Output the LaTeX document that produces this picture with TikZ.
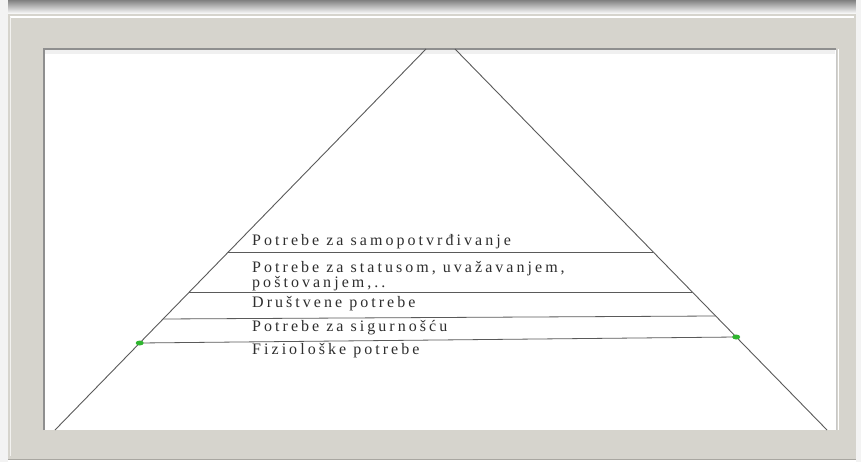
\documentclass[tikz,border=0pt]{standalone}
\usepackage{fontspec}
\setmainfont{Liberation Serif}
\usetikzlibrary{calc,shapes.geometric}
\definecolor{framec}{HTML}{D6D4CD}
\definecolor{framedark}{HTML}{A9A7A1}
\definecolor{innerbd}{HTML}{8F8F8F}
\definecolor{shade}{HTML}{EBEBEB}
\definecolor{linec}{HTML}{5A5A5A}
\definecolor{textc}{HTML}{2E2E2E}
\definecolor{dotc}{HTML}{2FB52F}
\tikzset{
  pyr/.style={draw=linec, line width=0.9pt},
  lvl/.style={draw=linec, line width=0.8pt},
  lbl/.style={anchor=west, inner sep=0pt, text=textc, align=left,
    font=\fontsize{16}{13}\selectfont\addfontfeature{LetterSpace=19}},
  gdot/.style={ellipse, fill=dotc, inner sep=0pt, minimum width=8pt, minimum height=5pt}
}
\begin{document}
\begin{tikzpicture}[x=1pt, y=-1pt]
\useasboundingbox (0,0) rectangle (861,462);
% page shadow
\fill[white] (0,0) rectangle (861,462);
\fill[shade] (0,0) rectangle (861,14);
\fill[shade!60] (0,0) rectangle (8,462);
\fill[shade!60] (856,0) rectangle (861,462);
% outer frame
\fill[framec] (8,14) rectangle (856,459);
\draw[white, line width=1.2pt] (10,17) -- (854,17);
\draw[white!70!framec, line width=1pt] (10,17) -- (10,456);
\draw[framedark, line width=1pt] (8,459) -- (856,459);
% inner white area
\fill[white] (44,49) rectangle (836,430);
\draw[innerbd, line width=1.6pt] (44,430) -- (44,49) -- (836,49);
\draw[innerbd!50, line width=1pt] (836,49) -- (836,430);
\draw[white, line width=1pt] (838,49) -- (838,430);
\fill[gray!12] (45,50) rectangle (835,54);
% pyramid sides
\coordinate (TL) at (426,49);
\coordinate (TR) at (455,49);
\coordinate (BL) at (55,430);
\coordinate (BR) at (827,430);
\draw[pyr] (TL) -- (BL);
\draw[pyr] (TR) -- (BR);
% level lines
\coordinate (a1) at ($(TL)!{(252-49)/381}!(BL)$);
\coordinate (a2) at ($(TR)!{(252-49)/381}!(BR)$);
\coordinate (b1) at ($(TL)!{(292-49)/381}!(BL)$);
\coordinate (b2) at ($(TR)!{(292-49)/381}!(BR)$);
\coordinate (c1) at ($(TL)!{(319-49)/381}!(BL)$);
\coordinate (c2) at ($(TR)!{(316-49)/381}!(BR)$);
\coordinate (d1) at ($(TL)!{(343-49)/381}!(BL)$);
\coordinate (d2) at ($(TR)!{(337-49)/381}!(BR)$);
\draw[lvl] (a1) -- (a2);
\draw[lvl] (b1) -- (b2);
\draw[lvl] (c1) -- (c2);
\draw[lvl] (d1) -- (d2);
\node[gdot] (g1) at (d1) {};
\node[gdot] (g2) at (d2) {};
% labels
\node[lbl] (t1) at (252,242) {Potrebe za samopotvrđivanje};
\node[lbl] (t2) at (252,276) {Potrebe za statusom, uvažavanjem,\\poštovanjem,..};
\node[lbl] (t3) at (252,304) {Društvene potrebe};
\node[lbl] (t4) at (252,328) {Potrebe za sigurnošću};
\node[lbl] (t5) at (252,351) {Fiziološke potrebe};
\end{tikzpicture}
\end{document}
